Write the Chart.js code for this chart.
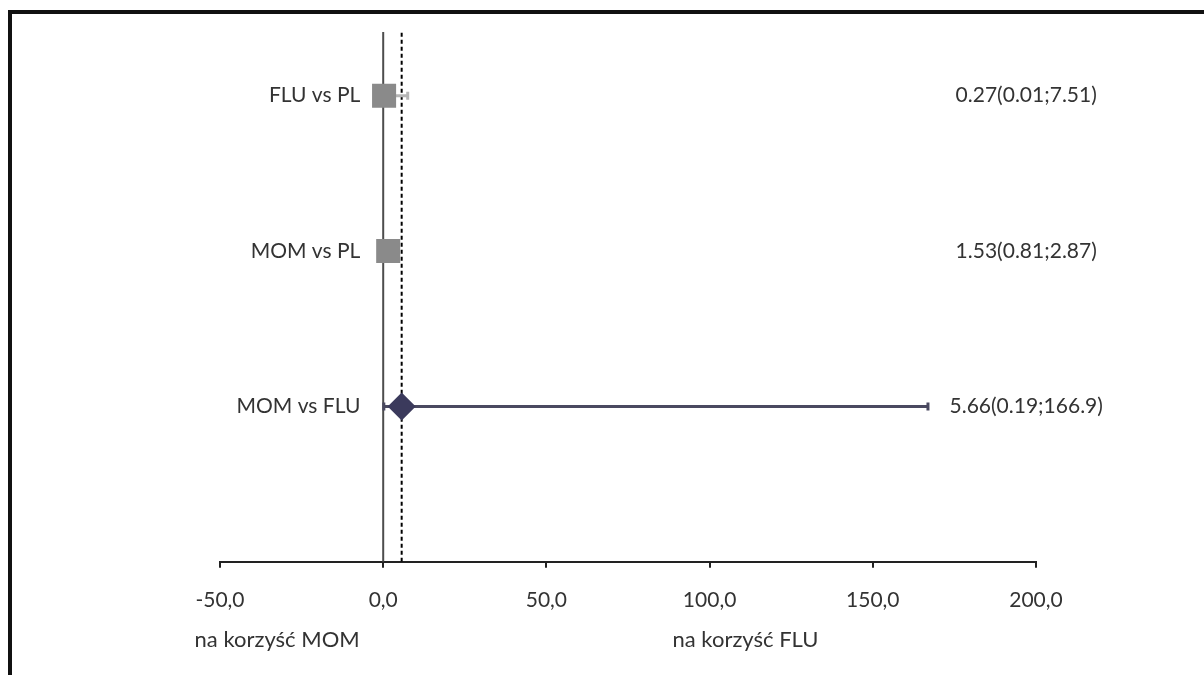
<!DOCTYPE html>
<html>
<head>
<meta charset="utf-8">
<script src="https://cdn.jsdelivr.net/npm/chart.js@4.4.1/dist/chart.umd.min.js"></script>
<style>
    html, body { margin: 0; padding: 0; background: #fff; }
    #wrap { width: 1204px; height: 675px; }
</style>
</head>
<body>
<div id="wrap"><canvas id="forestChart" width="1204" height="675"></canvas></div>
<script>
const comparisons = ['FLU vs PL', 'MOM vs PL', 'MOM vs FLU']
const rowY = [3, 2, 1]
const estimates = [0.27, 1.53, 5.66]
const lowerCI = [0.01, 0.81, 0.19]
const upperCI = [7.51, 2.87, 166.9]
const valueLabels = ['0.27(0.01;7.51)', '1.53(0.81;2.87)', '5.66(0.19;166.9)']
const xTicks = [-50, 0, 50, 100, 150, 200]
const sideLabels = ['na korzyść MOM', 'na korzyść FLU']
const pooledValue = 5.66

const FONT = 'Lato'
const TEXT = '#333'
const Y_TOP = 3.41

function errorBar(i, color) {
    return {
        type: 'line',
        data: [{ x: lowerCI[i], y: rowY[i] }, { x: upperCI[i], y: rowY[i] }],
        borderColor: color,
        borderWidth: 3,
        pointStyle: 'line',
        rotation: 90,
        pointRadius: 4,
        pointBorderColor: color,
        pointBorderWidth: 3,
        order: 3
    }
}

// labels left of each row, value text on the right, captions under the axis and the frame
const annotate = {
    id: 'annotate',
    beforeDraw(chart) {
        const ctx = chart.ctx
        ctx.save()
        ctx.fillStyle = '#111'
        ctx.fillRect(8, 10, 1196, 4)
        ctx.fillRect(8, 10, 4, 665)
        ctx.restore()
    },
    afterDraw(chart) {
        const ctx = chart.ctx
        const x = chart.scales.x
        const y = chart.scales.y
        ctx.save()
        ctx.font = '21px ' + FONT
        ctx.fillStyle = TEXT
        ctx.textBaseline = 'middle'
        comparisons.forEach((name, i) => {
            ctx.textAlign = 'right'
            ctx.fillText(name, x.getPixelForValue(-7), y.getPixelForValue(rowY[i]))
            ctx.textAlign = 'center'
            ctx.fillText(valueLabels[i], x.getPixelForValue(197), y.getPixelForValue(rowY[i]))
        })
        ctx.font = '22px ' + FONT
        ctx.textAlign = 'center'
        ctx.fillText(sideLabels[0], x.getPixelForValue(-32.5), 640)
        ctx.fillText(sideLabels[1], x.getPixelForValue(111), 640)
        ctx.restore()
    }
}

const data = {
    datasets: [
        {
            type: 'scatter',
            data: [{ x: estimates[0], y: rowY[0] }, { x: estimates[1], y: rowY[1] }],
            pointStyle: 'rect',
            pointRadius: 17,
            backgroundColor: '#8a8a8a',
            borderColor: '#8a8a8a',
            borderWidth: 0,
            order: 1
        },
        {
            type: 'scatter',
            data: [{ x: estimates[2], y: rowY[2] }],
            pointStyle: 'rectRot',
            pointRadius: 14,
            backgroundColor: '#3b3a5c',
            borderColor: '#3b3a5c',
            borderWidth: 0,
            order: 0
        },
        errorBar(0, '#b5b5b5'),
        errorBar(1, '#b5b5b5'),
        errorBar(2, '#4a4960'),
        {
            type: 'line',
            data: [{ x: 0, y: 0 }, { x: 0, y: Y_TOP }],
            borderColor: '#4d4d4d',
            borderWidth: 2,
            pointRadius: 0,
            order: 5
        },
        {
            type: 'line',
            data: [{ x: pooledValue, y: 0 }, { x: pooledValue, y: Y_TOP }],
            borderColor: '#000',
            borderWidth: 2,
            borderDash: [4, 3],
            pointRadius: 0,
            order: 4
        }
    ]
}

const config = {
    type: 'scatter',
    data: data,
    options: {
        responsive: false,
        animation: false,
        layout: {
            padding: { left: 220, right: 168, top: 32, bottom: 42 }
        },
        plugins: {
            legend: { display: false },
            tooltip: { enabled: false }
        },
        scales: {
            x: {
                type: 'linear',
                min: -50,
                max: 200,
                afterBuildTicks: (axis) => {
                    axis.ticks = xTicks.map(v => ({ value: v }))
                },
                border: { display: true, color: '#222', width: 2 },
                grid: {
                    drawOnChartArea: false,
                    drawTicks: true,
                    tickLength: 6,
                    color: '#222',
                    lineWidth: 2
                },
                ticks: {
                    padding: 20,
                    color: TEXT,
                    font: { family: FONT, size: 21 },
                    callback: (v) => v.toFixed(1).replace('.', ',')
                }
            },
            y: {
                type: 'linear',
                display: false,
                min: 0,
                max: Y_TOP
            }
        }
    },
    plugins: [annotate]
}

function renderChart(config, id) {
    const myChart = new Chart(
        document.getElementById(id),
        config
    );
}

renderChart(config, 'forestChart')
</script>
</body>
</html>
